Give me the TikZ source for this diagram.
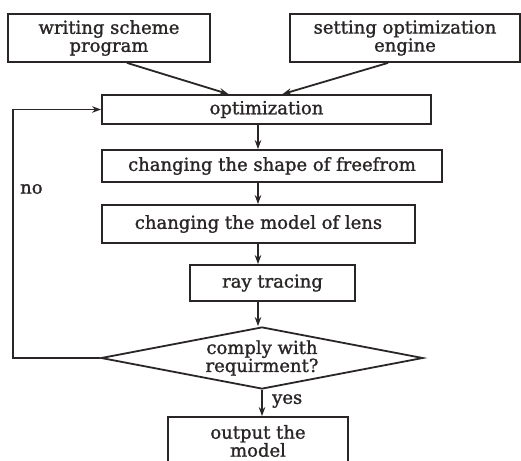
\documentclass[tikz,border=0pt]{standalone}
\usepackage{fontspec}
\setmainfont{DejaVu Serif}[FakeBold=1.3]
\usetikzlibrary{shapes.geometric,arrows.meta}
\definecolor{ink}{HTML}{2A2626}
\tikzset{
  txt/.style={text=ink, font=\fontsize{18}{18}\selectfont},
  box/.style={draw=ink, line width=1.8pt, rectangle, inner sep=0pt, align=center, txt},
  decision/.style={draw=ink, line width=1.8pt, diamond, aspect=5.2, inner sep=0pt,
    align=center, txt},
  flow/.style={draw=ink, line width=1.8pt, -{Stealth[length=9pt,width=6.5pt]}},
  tag/.style={txt, inner sep=0pt}
}
\begin{document}
\begin{tikzpicture}[x=1pt,y=-1pt]
  \clip (0,0) rectangle (521,460);
  \fill[white] (0,0) rectangle (521,460);

  % process steps
  \node[box, minimum width=202pt, minimum height=48pt] (prog) at (109,38)
    {writing scheme\\program};
  \node[box, minimum width=230pt, minimum height=48pt] (engine) at (405,38)
    {setting optimization\\engine};
  \node[box, minimum width=329pt, minimum height=29pt] (opt) at (266.5,109.5)
    {optimization};
  \node[box, minimum width=340pt, minimum height=32pt] (free) at (272,166)
    {changing the shape of freefrom};
  \node[box, minimum width=313pt, minimum height=38pt] (lens) at (258.5,224)
    {changing the model of lens};
  \node[box, minimum width=165pt, minimum height=36pt] (ray) at (272.5,283)
    {ray tracing};
  \node[decision, minimum width=322pt, minimum height=62pt] (check) at (262,358)
    {comply with\\requirment?};
  \node[box, minimum width=180pt, minimum height=48pt] (out) at (258,441)
    {output the\\model};

  % vertical spines of the main flow and the loop
  \coordinate (spine) at (258,0);
  \coordinate (loop) at (13,0);

  % inputs to the optimization step
  \draw[flow] ([xshift=18pt]prog.south) -- ([xshift=-38pt]opt.north);
  \draw[flow] ([xshift=-17pt]engine.south) -- ([xshift=16pt]opt.north);

  % main chain
  \draw[flow] (opt.south -| spine) -- (free.north -| spine);
  \draw[flow] (free.south -| spine) -- (lens.north -| spine);
  \draw[flow] (lens.south -| spine) -- (ray.north -| spine);
  \draw[flow] (ray.south -| spine) -- (check.north -| spine);
  \draw[flow] (check.south) -- (out.north -| check.south);

  % feedback loop
  \draw[flow] (check.west) -- (check.west -| loop) -- (opt.west -| loop) -- (opt.west);

  % branch labels
  \node[tag, anchor=west] (no) at (20,189) {no};
  \node[tag, anchor=west] (yes) at (272,401) {yes};
\end{tikzpicture}
\end{document}
